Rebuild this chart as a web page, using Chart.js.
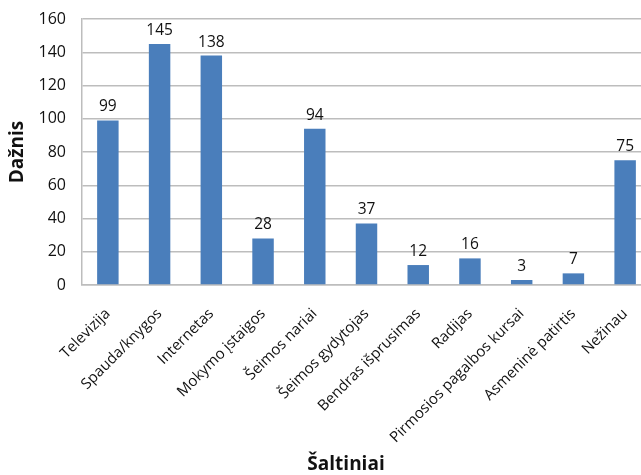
<!DOCTYPE html>
<html>
<head>
<meta charset="utf-8">
<script src="https://cdn.jsdelivr.net/npm/chart.js@4/dist/chart.umd.min.js"></script>
<style>
  html, body { margin: 0; padding: 0; background: #fff; overflow: hidden; width: 641px; height: 475px; }
  #wrap { width: 641px; height: 475px; overflow: hidden; position: relative; }
  #c { position: absolute; left: 0; top: 0; }
</style>
</head>
<body>
<div id="wrap"><canvas id="c" width="655" height="475"></canvas></div>
<script>
// Informacijos šaltiniai ir jų dažnis
const categories = [
  'Televizija', 'Spauda/knygos', 'Internetas', 'Mokymo įstaigos', 'Šeimos nariai',
  'Šeimos gydytojas', 'Bendras išprusimas', 'Radijas', 'Pirmosios pagalbos kursai',
  'Asmeninė patirtis', 'Nežinau'
];
const frequencies = [99, 145, 138, 28, 94, 37, 12, 16, 3, 7, 75];
const yTicks = [0, 20, 40, 60, 80, 100, 120, 140, 160];
const xTitle = 'Šaltiniai';
const yTitle = 'Dažnis';

const FONT = '"Open Sans", "DejaVu Sans", sans-serif';
const BAR = '#4a7ebb';
const GRID = '#bdbdbd';
const TEXT = '#111';

// Value labels above each bar
const valueLabels = {
  id: 'valueLabels',
  afterDatasetsDraw(chart) {
    const ctx = chart.ctx;
    const meta = chart.getDatasetMeta(0);
    const data = chart.data.datasets[0].data;
    ctx.save();
    ctx.font = '15.5px ' + FONT;
    ctx.fillStyle = TEXT;
    ctx.textAlign = 'center';
    ctx.textBaseline = 'alphabetic';
    meta.data.forEach((bar, i) => {
      ctx.fillText(String(data[i]), bar.x, bar.y - 9);
    });
    ctx.restore();
  }
};

// Category axis title, set a little left of the plot centre
const xAxisTitle = {
  id: 'xAxisTitle',
  afterDraw(chart) {
    const { ctx, chartArea } = chart;
    ctx.save();
    ctx.font = 'bold 19px ' + FONT;
    ctx.fillStyle = TEXT;
    ctx.textAlign = 'center';
    ctx.textBaseline = 'bottom';
    ctx.fillText(xTitle, chartArea.left + chartArea.width * 0.464, chart.height - 1);
    ctx.restore();
  }
};

new Chart(document.getElementById('c'), {
  type: 'bar',
  data: {
    labels: categories,
    datasets: [{
      data: frequencies,
      backgroundColor: BAR,
      borderWidth: 0,
      barPercentage: 0.415,
      categoryPercentage: 1.0
    }]
  },
  options: {
    responsive: false,
    animation: false,
    devicePixelRatio: 1,
    layout: { padding: { top: 19, right: 4, bottom: 0, left: 0 } },
    plugins: {
      legend: { display: false },
      tooltip: { enabled: false }
    },
    scales: {
      x: {
        grid: { display: false, drawTicks: false },
        border: { display: true, color: GRID, width: 1.5 },
        ticks: {
          color: TEXT,
          font: { family: FONT, size: 15 },
          maxRotation: 45,
          minRotation: 45,
          autoSkip: false,
          padding: 20
        },
        title: { display: false },
        afterFit(scale) {
          scale.height = 190;
          scale.paddingLeft = 0;
          scale.paddingRight = 0;
        }
      },
      y: {
        min: 0,
        max: 160,
        afterBuildTicks(scale) { scale.ticks = yTicks.map(v => ({ value: v })); },
        grid: { color: GRID, lineWidth: 1.5, drawTicks: false },
        border: { display: true, color: GRID, width: 1.5 },
        ticks: {
          color: TEXT,
          font: { family: FONT, size: 16 },
          padding: 16
        },
        title: {
          display: true,
          text: yTitle,
          color: TEXT,
          font: { family: FONT, size: 19, weight: 'bold' },
          padding: { top: 6, bottom: 0 }
        },
        afterFit(scale) {
          scale.width = 82;
          scale.paddingTop = 10;
          scale.paddingBottom = 10;
        }
      }
    }
  },
  plugins: [valueLabels, xAxisTitle]
});
</script>
</body>
</html>
